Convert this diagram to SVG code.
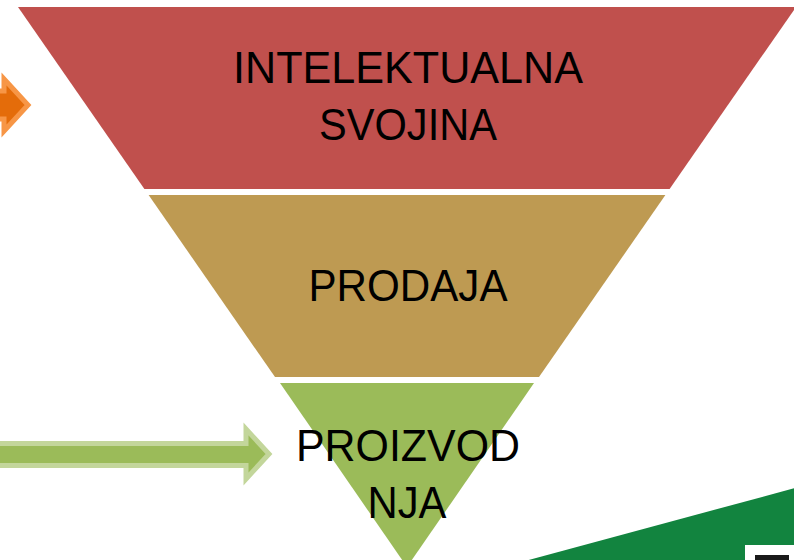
<svg xmlns="http://www.w3.org/2000/svg" width="794" height="560" viewBox="0 0 794 560">
<style>
.lbl{font-family:"Liberation Sans",Arial,sans-serif;font-size:44px;fill:#000;text-anchor:middle}
</style>
<rect width="794" height="560" fill="#fff"/>
<polygon points="525,561 795,488 795,561" fill="#12843F"/>
<rect x="745" y="545" width="50" height="16" fill="#fff"/>
<rect x="755" y="555" width="34" height="6" fill="#1a1a1a"/>
<g id="intelektualna">
<polygon points="18,7 796,7 669.6,189 144.4,189" fill="#C0504D"/>
<text class="lbl" x="408" y="83" textLength="350" lengthAdjust="spacingAndGlyphs">INTELEKTUALNA</text>
<text class="lbl" x="408" y="140" textLength="178" lengthAdjust="spacingAndGlyphs">SVOJINA</text>
</g>
<g id="prodaja">
<polygon points="148.6,195 665.4,195 539,377 275,377" fill="#BE9A52"/>
<text class="lbl" x="408" y="301" textLength="199" lengthAdjust="spacingAndGlyphs">PRODAJA</text>
</g>
<g id="proizvodnja">
<polygon points="280,383 534,383 407,567" fill="#9BBB59"/>
<text class="lbl" x="408" y="461" textLength="224" lengthAdjust="spacingAndGlyphs">PROIZVOD</text>
<text class="lbl" x="407" y="518" textLength="79" lengthAdjust="spacingAndGlyphs">NJA</text>
</g>
<g id="connectors">
<polygon points="-20,91 4,91 4,79 28,105 4,131 4,119 -20,119" fill="#E46C0A" stroke="#F79646" stroke-width="5"/>
<polygon points="-20,443.5 246,443.5 246,429 269,454 246,479 246,465.5 -20,465.5" fill="#9BBB59" stroke="#C3D69B" stroke-width="5"/>
</g>
</svg>
